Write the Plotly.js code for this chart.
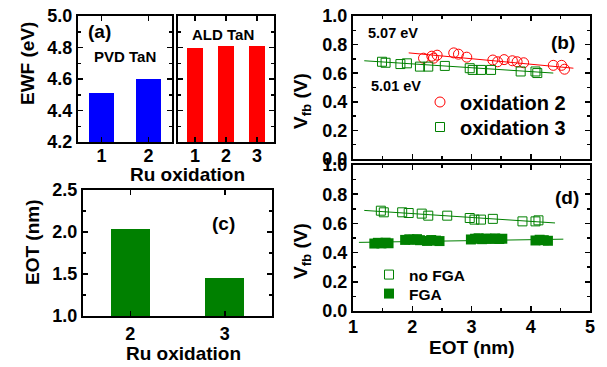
<!DOCTYPE html>
<html>
<head>
<meta charset="utf-8">
<script src="https://cdn.plot.ly/plotly-3.0.1.min.js"></script>
<style>html,body{margin:0;padding:0;background:#fff}#chart{width:607px;height:367px}</style>
</head>
<body>
<div id="chart"></div>
<script>
// ---------- data ----------
const pvdX = [1, 2];
const pvdEWF = [4.51, 4.60];
const aldX = [1, 2, 3];
const aldEWF = [4.80, 4.81, 4.81];
const eotX = [2, 3];
const eotVals = [2.04, 1.45];

const ox2X = [2.19, 2.33, 2.42, 2.36, 2.70, 2.78, 2.92, 3.36, 3.44, 3.55, 3.69, 3.77, 3.88, 4.38, 4.52, 4.57];
const ox2Y = [0.705, 0.719, 0.726, 0.705, 0.742, 0.733, 0.712, 0.692, 0.680, 0.695, 0.687, 0.680, 0.673, 0.655, 0.655, 0.628];
const ox3X = [1.49, 1.55, 1.80, 1.91, 2.13, 2.27, 2.55, 2.97, 3.02, 3.16, 3.33, 3.83, 4.08, 4.11];
const ox3Y = [0.680, 0.673, 0.664, 0.669, 0.646, 0.646, 0.651, 0.635, 0.623, 0.623, 0.623, 0.612, 0.612, 0.601];
const ox2FitX = [1.94, 4.72];
const ox2FitY = [0.742, 0.635];
const ox3FitX = [1.19, 4.38];
const ox3FitY = [0.687, 0.601];

const noFgaX = [1.47, 1.52, 1.83, 1.94, 2.16, 2.27, 2.59, 2.97, 3.05, 3.16, 3.36, 3.86, 4.08, 4.13];
const noFgaY = [0.687, 0.676, 0.676, 0.671, 0.667, 0.653, 0.653, 0.637, 0.626, 0.626, 0.631, 0.614, 0.614, 0.621];
const fgaX = [1.36, 1.42, 1.48, 1.55, 1.60, 1.88, 1.95, 2.02, 2.08, 2.13, 2.25, 2.32, 2.40, 2.46,
              2.99, 3.06, 3.12, 3.18, 3.25, 3.32, 3.40, 3.47, 3.52, 4.08, 4.15, 4.22, 4.29];
const fgaY = [0.462, 0.467, 0.463, 0.468, 0.464, 0.487, 0.491, 0.488, 0.492, 0.485, 0.480, 0.486, 0.482, 0.479,
              0.490, 0.495, 0.498, 0.492, 0.496, 0.494, 0.497, 0.493, 0.495, 0.483, 0.488, 0.485, 0.481];
const noFgaFitX = [1.19, 4.41];
const noFgaFitY = [0.689, 0.603];
const fgaFitX = [1.10, 4.55];
const fgaFitY = [0.470, 0.492];

// ---------- helpers ----------
const W = 607, H = 367;
const px = v => v / W;
const py = v => 1 - v / H;
const FONT = 'Liberation Sans, Arial, sans-serif';
const GREEN = '#008000';

function axis(extra) {
  return Object.assign({
    showline: true, linecolor: 'black', linewidth: 2, mirror: 'allticks',
    ticks: 'inside', ticklen: 5, tickwidth: 1.5, tickcolor: 'black',
    showgrid: false, zeroline: false, fixedrange: true,
    tickfont: {family: FONT, size: 18, color: 'black', weight: 'bold'}
  }, extra);
}
function minor(d) {
  return {ticks: 'inside', ticklen: 3, tickwidth: 1.5, tickcolor: 'black', dtick: d, showgrid: false};
}

const traces = [
  {type: 'bar', x: pvdX, y: pvdEWF, width: 0.52, marker: {color: '#0000FF'}, xaxis: 'x', yaxis: 'y', showlegend: false},
  {type: 'bar', x: aldX, y: aldEWF, width: 0.53, marker: {color: '#FF0000'}, xaxis: 'x2', yaxis: 'y2', showlegend: false},
  {type: 'bar', x: eotX, y: eotVals, width: 0.41, marker: {color: GREEN}, xaxis: 'x3', yaxis: 'y3', showlegend: false},

  {type: 'scatter', mode: 'lines', x: ox2FitX, y: ox2FitY, line: {color: '#FF0000', width: 1}, xaxis: 'x4', yaxis: 'y4', showlegend: false},
  {type: 'scatter', mode: 'lines', x: ox3FitX, y: ox3FitY, line: {color: GREEN, width: 1}, xaxis: 'x4', yaxis: 'y4', showlegend: false},
  {type: 'scatter', mode: 'markers', name: 'oxidation 2', x: ox2X, y: ox2Y,
   marker: {symbol: 'circle-open', size: 10, color: '#FF0000', line: {width: 1}}, xaxis: 'x4', yaxis: 'y4', legend: 'legend'},
  {type: 'scatter', mode: 'markers', name: 'oxidation 3', x: ox3X, y: ox3Y,
   marker: {symbol: 'square-open', size: 9, color: GREEN, line: {width: 1}}, xaxis: 'x4', yaxis: 'y4', legend: 'legend2'},

  {type: 'scatter', mode: 'lines', x: noFgaFitX, y: noFgaFitY, line: {color: GREEN, width: 1}, xaxis: 'x5', yaxis: 'y5', showlegend: false},
  {type: 'scatter', mode: 'lines', x: fgaFitX, y: fgaFitY, line: {color: GREEN, width: 1}, xaxis: 'x5', yaxis: 'y5', showlegend: false},
  {type: 'scatter', mode: 'markers', name: 'no FGA', x: noFgaX, y: noFgaY,
   marker: {symbol: 'square-open', size: 9, color: GREEN, line: {width: 1}}, xaxis: 'x5', yaxis: 'y5', legend: 'legend3'},
  {type: 'scatter', mode: 'markers', name: 'FGA', x: fgaX, y: fgaY,
   marker: {symbol: 'square', size: 10, color: GREEN}, xaxis: 'x5', yaxis: 'y5', legend: 'legend4'}
];

function ann(text, x, y, size, rot) {
  return {text: text, x: px(x), y: py(y), xref: 'paper', yref: 'paper', showarrow: false,
          xanchor: 'center', yanchor: 'middle', textangle: rot || 0,
          font: {family: FONT, size: size, color: 'black', weight: 'bold'}};
}
function leg(x, y, size) {
  return {x: px(x), y: py(y), xanchor: 'left', yanchor: 'middle', bgcolor: 'rgba(0,0,0,0)',
          font: {family: FONT, size: size, color: 'black', weight: 'bold'}};
}

const layout = {
  width: W, height: H, margin: {l: 0, r: 0, t: 0, b: 0},
  paper_bgcolor: 'white', plot_bgcolor: 'white', bargap: 0,
  font: {family: FONT, color: 'black'},
  xaxis: axis({domain: [px(78), px(172)], anchor: 'y', range: [0.5, 2.5], tickvals: [1, 2], ticklabelstandoff: -4}),
  yaxis: axis({domain: [py(142), py(16)], anchor: 'x', range: [4.2, 5.0], dtick: 0.2, tickformat: '.1f', minor: minor(0.1)}),
  xaxis2: axis({domain: [px(178), px(274)], anchor: 'y2', range: [0.45, 3.55], tickvals: [1, 2, 3], ticklabelstandoff: -4}),
  yaxis2: axis({domain: [py(142), py(16)], anchor: 'x2', range: [4.2, 5.0], dtick: 0.2, showticklabels: false, minor: minor(0.1)}),
  xaxis3: axis({domain: [px(83), px(272)], anchor: 'y3', range: [1.5, 3.5], tickvals: [2, 3]}),
  yaxis3: axis({domain: [py(316), py(190)], anchor: 'x3', range: [1.0, 2.5], dtick: 0.5, tickformat: '.1f', minor: minor(0.25)}),
  xaxis4: axis({domain: [px(353), px(590)], anchor: 'y4', range: [1, 5], dtick: 1, showticklabels: false, minor: minor(0.5)}),
  yaxis4: axis({domain: [py(159), py(16)], anchor: 'x4', range: [0, 1], dtick: 0.2, tickformat: '.1f', minor: minor(0.1)}),
  xaxis5: axis({domain: [px(353), px(590)], anchor: 'y5', range: [1, 5], dtick: 1, minor: minor(0.5), ticklabelstandoff: -2}),
  yaxis5: axis({domain: [py(311), py(165)], anchor: 'x5', range: [0, 1], dtick: 0.2, tickformat: '.1f', minor: minor(0.1)}),
  legend: leg(420, 102, 20),
  legend2: leg(420, 127, 20),
  legend3: leg(369, 275, 15.5),
  legend4: leg(369, 294, 15.5),
  annotations: [
    ann('EWF (eV)', 27, 64, 19, -90),
    ann('Ru oxidation', 187, 174, 19),
    ann('EOT (nm)', 32, 242, 19, -90),
    ann('Ru oxidation', 183, 353, 19),
    ann('V<sub>fb</sub> (V)', 302, 101, 19, -90),
    ann('V<sub>fb</sub> (V)', 302, 251, 19, -90),
    ann('EOT (nm)', 472, 347, 19),
    ann('(a)', 100, 32, 19),
    ann('PVD TaN', 125, 57, 15),
    ann('ALD TaN', 223, 34, 15),
    ann('(c)', 223, 223, 19),
    ann('(b)', 563, 43, 19),
    ann('(d)', 567, 197, 19),
    ann('5.07 eV', 393, 33, 14.5),
    ann('5.01 eV', 396, 86, 14.5)
  ]
};

Plotly.newPlot('chart', traces, layout, {staticPlot: true, displayModeBar: false});
</script>
</body>
</html>
